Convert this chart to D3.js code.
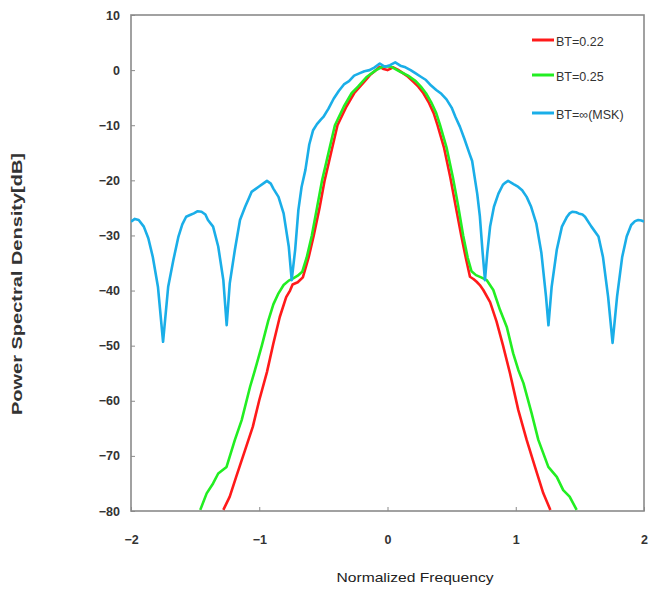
<!DOCTYPE html>
<html>
<head>
<meta charset="utf-8">
<script src="https://cdn.jsdelivr.net/npm/d3@7"></script>
<style>
  html, body { margin: 0; padding: 0; background: #fff; }
  svg { display: block; }
</style>
</head>
<body>
<svg id="chart" width="650" height="589"></svg>
<script>
// ---------------- data ----------------
const seriesNames = ["BT=0.22", "BT=0.25", "BT=\u221E(MSK)"];
const seriesColors = ["#ff1a1a", "#22ee22", "#1aaee8"];

const xTicks = [-2, -1, 0, 1, 2];
const yTicks = [-80, -70, -60, -50, -40, -30, -20, -10, 0, 10];

// BT = 0.22 (red)
const bt022F  = [-1.28, -1.23, -1.18, -1.11, -1.05, -1.00, -0.94, -0.89, -0.84, -0.79, -0.76, -0.74, -0.70, -0.66, -0.615, -0.575, -0.53, -0.49, -0.44, -0.39, -0.32, -0.26, -0.215, -0.17, -0.137, -0.10, -0.06, -0.03, 0.0, 0.045, 0.08, 0.123, 0.16, 0.20, 0.24, 0.28, 0.32, 0.36, 0.39, 0.44, 0.49, 0.53, 0.575, 0.61, 0.643, 0.67, 0.695, 0.72, 0.747, 0.80, 0.85, 0.90, 0.955, 1.02, 1.085, 1.15, 1.215, 1.27];
const bt022Db = [-79.8, -77.4, -73.8, -68.9, -64.7, -59.9, -54.8, -49.6, -44.8, -41.2, -40.0, -38.9, -38.5, -37.6, -34.0, -30.0, -25.0, -20.0, -15.0, -10.0, -6.6, -4.2, -3.0, -1.8, -0.9, -0.2, 0.6, 0.2, 0.0, 0.5, 0.1, -0.6, -1.2, -2.1, -3.0, -4.2, -5.8, -7.8, -10.0, -14.0, -19.5, -24.5, -30.0, -34.0, -37.5, -37.9, -38.4, -39.0, -39.9, -42.1, -45.6, -49.9, -55.0, -61.7, -67.1, -72.0, -76.8, -79.8];

// BT = 0.25 (green)
const bt025F  = [-1.46, -1.41, -1.36, -1.32, -1.255, -1.19, -1.137, -1.072, -1.033, -0.98, -0.93, -0.89, -0.85, -0.81, -0.77, -0.735, -0.70, -0.665, -0.63, -0.59, -0.55, -0.51, -0.46, -0.41, -0.34, -0.28, -0.23, -0.16, -0.09, -0.03, 0.03, 0.10, 0.16, 0.22, 0.26, 0.30, 0.34, 0.38, 0.41, 0.46, 0.51, 0.55, 0.59, 0.625, 0.655, 0.69, 0.73, 0.773, 0.825, 0.877, 0.93, 0.98, 1.02, 1.06, 1.124, 1.176, 1.254, 1.32, 1.37, 1.42, 1.475];
const bt025Db = [-79.8, -76.8, -75.0, -73.2, -72.0, -67.1, -63.5, -57.5, -54.4, -50.0, -45.5, -42.5, -40.5, -39.0, -38.2, -37.8, -37.3, -36.6, -34.0, -30.0, -25.0, -20.0, -15.0, -10.0, -6.6, -4.2, -3.0, -1.2, 0.0, 0.7, 0.6, -0.3, -1.0, -2.0, -3.0, -4.2, -5.8, -7.8, -10.0, -14.0, -19.5, -24.5, -30.0, -34.0, -36.5, -37.2, -37.6, -38.1, -39.9, -43.5, -46.6, -51.4, -54.4, -56.8, -62.3, -67.1, -72.0, -73.8, -76.2, -77.4, -79.8];

// BT = infinity, MSK (blue)
const mskF  = [-2.0, -1.97, -1.94, -1.90, -1.865, -1.83, -1.79, -1.75, -1.71, -1.67, -1.63, -1.60, -1.57, -1.54, -1.51, -1.48, -1.45, -1.42, -1.40, -1.36, -1.32, -1.28, -1.254, -1.23, -1.19, -1.15, -1.11, -1.08, -1.06, -1.03, -1.007, -0.97, -0.94, -0.91, -0.89, -0.85, -0.81, -0.77, -0.747, -0.72, -0.695, -0.67, -0.64, -0.61, -0.58, -0.55, -0.52, -0.50, -0.46, -0.42, -0.38, -0.34, -0.30, -0.26, -0.22, -0.18, -0.14, -0.10, -0.06, -0.02, 0.02, 0.06, 0.10, 0.14, 0.18, 0.22, 0.26, 0.30, 0.34, 0.38, 0.42, 0.46, 0.50, 0.53, 0.565, 0.60, 0.64, 0.66, 0.68, 0.70, 0.72, 0.742, 0.76, 0.778, 0.80, 0.83, 0.865, 0.90, 0.92, 0.94, 0.97, 0.99, 1.02, 1.05, 1.085, 1.12, 1.16, 1.20, 1.236, 1.255, 1.28, 1.32, 1.36, 1.40, 1.42, 1.44, 1.47, 1.49, 1.52, 1.54, 1.59, 1.645, 1.68, 1.72, 1.755, 1.79, 1.83, 1.865, 1.90, 1.93, 1.955, 1.98, 2.0];
const mskDb = [-27.5, -27.0, -27.2, -28.4, -30.5, -33.9, -39.3, -49.3, -39.3, -34.5, -30.2, -28.0, -26.6, -26.3, -26.0, -25.6, -25.7, -26.2, -27.2, -28.4, -32.0, -38.1, -46.3, -38.7, -32.6, -27.2, -24.8, -23.2, -22.1, -21.6, -21.2, -20.6, -20.1, -20.6, -21.5, -23.0, -26.0, -32.0, -38.1, -32.6, -25.4, -21.2, -18.1, -13.5, -10.9, -9.8, -9.0, -8.5, -7.0, -5.2, -3.8, -2.6, -2.0, -1.0, -0.6, -0.2, 0.0, 0.5, 1.2, 0.6, 0.9, 1.4, 0.8, 0.5, 0.0, -0.6, -1.2, -1.8, -2.8, -3.6, -4.3, -5.3, -6.8, -8.5, -10.3, -12.5, -15.2, -16.5, -19.5, -22.5, -26.5, -33.2, -38.1, -33.2, -28.4, -24.8, -22.4, -20.8, -20.4, -20.1, -20.5, -20.8, -21.2, -21.8, -23.0, -24.8, -27.8, -33.2, -41.1, -46.3, -39.3, -32.6, -28.4, -26.6, -26.0, -25.7, -25.8, -26.0, -26.2, -26.6, -28.4, -30.2, -33.9, -41.1, -49.5, -41.1, -33.9, -30.2, -28.1, -27.4, -27.2, -27.3, -27.5];

const seriesF  = [bt022F, bt025F, mskF];
const seriesDb = [bt022Db, bt025Db, mskDb];

// ---------------- layout ----------------
const svg = d3.select("#chart");
const plot = { left: 131, right: 644, top: 15, bottom: 511 };
const font = "'Liberation Sans', Arial, sans-serif";

const x = d3.scaleLinear().domain([-2, 2]).range([plot.left, plot.right]);
const y = d3.scaleLinear().domain([-80, 10]).range([plot.bottom, plot.top]);

svg.append("defs").append("clipPath").attr("id", "clip")
  .append("rect")
  .attr("x", plot.left).attr("y", plot.top)
  .attr("width", plot.right - plot.left).attr("height", plot.bottom - plot.top);

// axes
const yAxis = d3.axisLeft(y).tickValues(yTicks).tickSizeInner(-4).tickSizeOuter(0).tickPadding(11)
  .tickFormat(d => d < 0 ? "\u2212" + Math.abs(d) : d);
const gy = svg.append("g").attr("transform", `translate(${plot.left},0)`).call(yAxis);
gy.select(".domain").remove();
gy.selectAll("line").attr("stroke", "#8a8a8a").attr("stroke-width", 1);
gy.selectAll("text").attr("font-family", font).attr("font-size", 12.5).attr("fill", "#333")
  .attr("font-weight", "bold");

const xAxis = d3.axisBottom(x).tickValues(xTicks).tickSizeInner(-4).tickSizeOuter(0).tickPadding(24)
  .tickFormat(d => d < 0 ? "\u2212" + Math.abs(d) : d);
const gx = svg.append("g").attr("transform", `translate(0,${plot.bottom})`).call(xAxis);
gx.select(".domain").remove();
gx.selectAll("line").attr("stroke", "#8a8a8a").attr("stroke-width", 1);
gx.selectAll("text").attr("font-family", font).attr("font-size", 12.5).attr("fill", "#333")
  .attr("font-weight", "bold");

// frame
svg.append("rect")
  .attr("x", plot.left).attr("y", plot.top)
  .attr("width", plot.right - plot.left).attr("height", plot.bottom - plot.top)
  .attr("fill", "none").attr("stroke", "#8a8a8a").attr("stroke-width", 1.6);

// series lines
const line = d3.line().x(d => x(d[0])).y(d => y(d[1]));
const gLines = svg.append("g").attr("clip-path", "url(#clip)");
seriesF.forEach((fs, i) => {
  const pts = fs.map((f, k) => [f, seriesDb[i][k]]);
  gLines.append("path")
    .datum(pts)
    .attr("d", line)
    .attr("fill", "none")
    .attr("stroke", seriesColors[i])
    .attr("stroke-width", 2.6)
    .attr("stroke-linejoin", "round");
});

// legend
const legendY = [42, 77, 115];
seriesNames.forEach((name, i) => {
  svg.append("line")
    .attr("x1", 532).attr("x2", 554)
    .attr("y1", legendY[i] - 2).attr("y2", legendY[i] - 2)
    .attr("stroke", seriesColors[i]).attr("stroke-width", 3);
  svg.append("text")
    .attr("x", 556).attr("y", legendY[i] + 4)
    .attr("font-family", font).attr("font-size", 12.5)
    .attr("fill", "#333").text(name);
});

// axis titles
svg.append("text")
  .attr("x", 415).attr("y", 582)
  .attr("text-anchor", "middle")
  .attr("font-family", font).attr("font-size", 13)
  .attr("textLength", 157).attr("lengthAdjust", "spacingAndGlyphs")
  .attr("fill", "#222").text("Normalized Frequency");

svg.append("text")
  .attr("transform", "translate(22,284) rotate(-90)")
  .attr("text-anchor", "middle")
  .attr("font-family", font).attr("font-size", 14).attr("font-weight", "bold")
  .attr("textLength", 262).attr("lengthAdjust", "spacingAndGlyphs")
  .attr("fill", "#333").text("Power Spectral Density[dB]");
</script>
</body>
</html>
